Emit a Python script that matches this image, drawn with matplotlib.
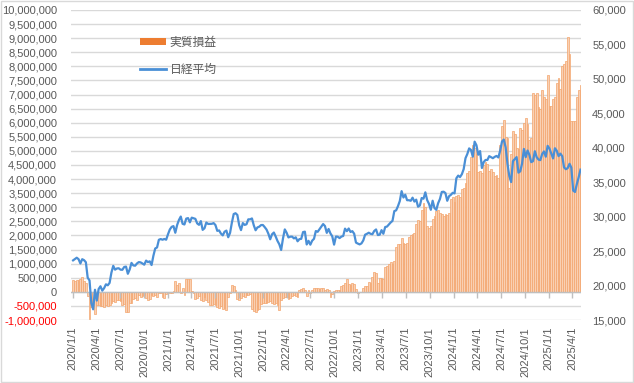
import numpy as np
import pandas as pd
import matplotlib
matplotlib.use("Agg")
import matplotlib.pyplot as plt
import matplotlib.dates as mdates
from matplotlib.patches import Rectangle, Patch
from matplotlib.lines import Line2D

plt.rcParams['font.family'] = ['Liberation Sans', 'Noto Sans CJK JP', 'DejaVu Sans']

# weekly data, Fridays from 2020/1/3
first_week = '2020-01-03'

# 実質損益 (unit: 10,000 yen)
pl_2020 = [42, 40, 43, 41, 45, 52, 38, 30, -15, -95,
           -55, -35, -78, -45, -48, -52, -50, -55, -48, -52,
           -45, -38, -32, -35, -30, -28, -33, -45, -42, -70,
           -72, -40, -38, -25, -22, -28, -12, -18, -15, -10,
           -22, -28, -25, -12, -15, -10, -18, -5, -3, -20,
           -22, -8, -2]
pl_2021 = [-5, -3, 2, 40, 25, 30, -5, 15, -10, 45,
           46, 44, 2, -3, -25, -22, -15, -28, -32, -20,
           -30, -35, -45, -48, -42, -46, -55, -58, -52, -60,
           -57, -65, -20, -5, 25, 22, 5, -25, -28, -22,
           -15, -18, -12, -10, -8, -60, -68, -70, -65, -62,
           -42, -40]
pl_2022 = [-40, -38, -35, -32, -40, -42, -38, -45, -65, -30,
           -22, -18, -20, -25, -22, -15, -12, -15, -18, 8,
           10, 12, 8, -15, 5, -5, 8, 15, 12, 15,
           10, 12, 15, 8, 10, 5, -17, -8, 3, 5,
           8, 5, 20, 25, 30, 47, 28, 25, 30, 28,
           10, -3]
pl_2023 = [0, -2, 15, 20, 22, 35, 30, 53, 70, 68,
           33, 48, 50, 45, 88, 92, 100, 105, 98, 110,
           160, 168, 170, 190, 175, 168, 172, 195, 200, 205,
           210, 240, 255, 250, 290, 315, 300, 235, 228, 235,
           260, 270, 285, 290, 280, 275, 270, 275, 272, 278,
           330, 335]
pl_2024 = [320, 340, 345, 335, 365, 370, 385, 420, 430, 480,
           520, 510, 490, 425, 430, 420, 450, 460, 455, 430,
           435, 425, 410, 415, 405, 520, 590, 610, 550, 545,
           370, 490, 570, 560, 510, 505, 580, 575, 600, 615,
           595, 540, 545, 705, 700, 705, 655, 650, 715, 690,
           685, 770]
pl_2025 = [660, 660, 685, 690, 740, 760, 720, 800, 810, 820,
           905, 845, 605, 605, 605, 690, 715, 735]

# 日経平均 (weekly close)
nk_2020 = [23657, 23850, 24041, 23827, 23205, 23828, 23688, 23386, 21143, 20749,
           17431, 16552, 19389, 17820, 19498, 19897, 19262, 19619, 20179, 20037,
           20388, 21877, 22863, 22305, 22478, 22512, 22306, 22290, 22696, 22751,
           21710, 22329, 23289, 22920, 22882, 23205, 23406, 23360, 23204, 23029,
           23619, 23410, 23516, 22977, 24325, 25385, 25527, 26644, 26751, 26652,
           26763, 26656, 27444]
nk_2021 = [28139, 28519, 28631, 27663, 28779, 29520, 30018, 28966, 28864, 29717,
           29792, 29176, 29854, 29768, 29683, 29020, 28812, 29357, 28084, 28317,
           29149, 28941, 28948, 28964, 29066, 28783, 27940, 28003, 27548, 27284,
           27820, 27977, 27013, 27641, 29128, 30382, 30500, 30249, 28771, 28049,
           29068, 28805, 28892, 29611, 29610, 29745, 28751, 28029, 28437, 28545,
           28782, 28791]
nk_2022 = [28478, 28124, 27522, 26717, 27439, 27696, 27122, 26476, 25985, 25162,
           26827, 28149, 27665, 26985, 27093, 27105, 26847, 27003, 26427, 26739,
           26781, 27761, 27824, 25963, 26491, 25935, 26517, 26788, 27915, 27801,
           28176, 28546, 28930, 28641, 27650, 28214, 27567, 27153, 25937, 27116,
           27090, 26890, 27105, 27199, 28263, 27899, 28283, 27777, 27901, 27527,
           26235, 26094]
nk_2023 = [25973, 26119, 26553, 27382, 27509, 27670, 27513, 27453, 27927, 28143,
           27333, 27385, 28041, 27518, 28493, 28564, 28856, 29157, 29388, 30808,
           30916, 31524, 32265, 33706, 32781, 33189, 32388, 32391, 32304, 32759,
           32192, 32473, 31450, 31624, 32710, 32606, 33533, 32402, 31857, 30994,
           32315, 31259, 30991, 31950, 32568, 33585, 33625, 33431, 32307, 32970,
           33169, 33464]
nk_2024 = [33377, 35577, 35963, 35751, 36158, 36897, 38487, 39098, 39910, 39688,
           38707, 40888, 40369, 38992, 39523, 37068, 37934, 38236, 38229, 38787,
           38646, 38487, 38683, 38814, 38596, 39583, 40912, 41190, 40063, 37667,
           35909, 35025, 38062, 38364, 38647, 36391, 36581, 37723, 39829, 38635,
           39605, 38981, 37913, 38053, 39500, 38642, 38283, 38208, 39091, 39470,
           38701, 40281]
nk_2025 = [39894, 39190, 38451, 39931, 39572, 38787, 39149, 38776, 37155, 36887,
           37053, 37677, 37120, 33780, 33585, 34730, 35705, 36830]

pl = np.array(pl_2020 + pl_2021 + pl_2022 + pl_2023 + pl_2024 + pl_2025) * 10000
nikkei = np.array(nk_2020 + nk_2021 + nk_2022 + nk_2023 + nk_2024 + nk_2025)
dates = pd.date_range(first_week, periods=max(len(pl), len(nikkei)), freq='7D')

tick_dates = pd.date_range('2020-01-01', '2025-04-01', freq='QS')
tick_labels = [f"{d.year}/{d.month}/{d.day}" for d in tick_dates]

gray = '#595959'
orange = '#ED7D31'
blue = '#4A8FD6'

fig = plt.figure(figsize=(6.34, 3.83), dpi=100)
ax = fig.add_axes([71 / 634, 1 - 320 / 383, 510 / 634, 310 / 383])
ax2 = ax.twinx()

# bars (left axis)
ax.bar(dates[:len(pl)], pl, width=7, color='#F9D0B3', edgecolor='#F3A46C',
       linewidth=0.5, zorder=2)
ax.axhline(0, color='#BFBFBF', lw=1, zorder=3)
tick_nums = mdates.date2num(tick_dates)
ax.plot(tick_nums, np.zeros(len(tick_nums)), linestyle='none', marker=3,
        markersize=4, markeredgewidth=1, color='#BFBFBF', zorder=3, clip_on=False)

ax.set_ylim(-1000000, 10000000)
yt = np.arange(-1000000, 10000001, 500000)
ax.set_yticks(yt, labels=[f"{v:,}" for v in yt])
for lab, v in zip(ax.get_yticklabels(), yt):
    lab.set_color('#FF0000' if v < 0 else gray)
ax.yaxis.grid(True, color='#D9D9D9', lw=1)
ax.set_axisbelow(True)

ax.set_xlim(mdates.date2num(pd.Timestamp('2019-12-26')),
            mdates.date2num(pd.Timestamp('2025-05-04')))
ax.set_xticks(tick_nums, labels=tick_labels, rotation=90)
ax.tick_params(axis='x', length=0, pad=5, labelsize=8, labelcolor=gray)
ax.tick_params(axis='y', length=0, pad=10, labelsize=8)

# line (right axis)
ax2.plot(dates[:len(nikkei)], nikkei, color=blue, lw=1.6, zorder=4)
ax2.set_ylim(15000, 60000)
yt2 = np.arange(15000, 60001, 5000)
ax2.set_yticks(yt2, labels=[f"{v:,}" for v in yt2])
ax2.tick_params(axis='y', length=0, pad=8, labelsize=8, labelcolor=gray)

for a in (ax, ax2):
    for s in a.spines.values():
        s.set_visible(False)

handles = [Patch(facecolor=orange, edgecolor='none'),
           Line2D([], [], color=blue, lw=2)]
ax2.legend(handles, ['実質損益', '日経平均'], loc='upper left',
           bbox_to_anchor=(0.115, 0.948), frameon=False, fontsize=8.5,
           labelcolor=gray, handlelength=2.2, handleheight=0.5,
           handletextpad=0.3, labelspacing=1.3)

fig.patches.append(Rectangle((0.001, 0.002), 0.997, 0.996, transform=fig.transFigure,
                             fill=False, edgecolor='#D9D9D9', lw=1))

fig.savefig('out.png', dpi=100)
